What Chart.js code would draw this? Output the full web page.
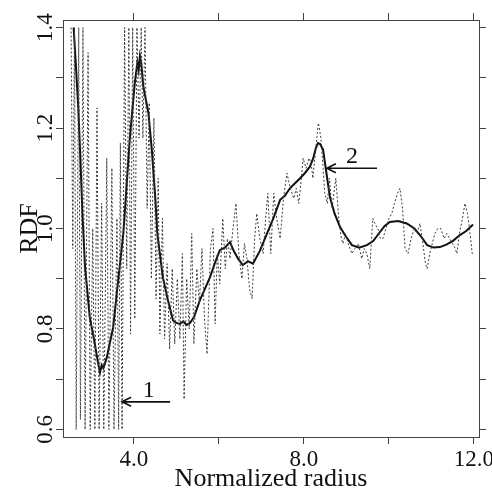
<!DOCTYPE html>
<html>
<head>
<meta charset="utf-8">
<script src="https://cdn.jsdelivr.net/npm/chart.js@4"></script>
<style>
  html, body { margin: 0; padding: 0; background: #fff; }
  #wrap { width: 492px; height: 491px; position: relative; }
</style>
</head>
<body>
<div id="wrap"><canvas id="rdfChart"></canvas></div>
<script>
// ── Smoothed RDF (solid line) ──
const smoothR = [
  2.58, 2.63, 2.69, 2.74, 2.79, 2.85, 2.96, 3.08, 3.15, 3.20,
  3.24, 3.28, 3.36, 3.51, 3.62, 3.75, 3.90, 4.02, 4.08, 4.11,
  4.14, 4.17, 4.22, 4.34, 4.42, 4.50, 4.55, 4.68, 4.80, 4.92,
  5.00, 5.08, 5.16, 5.24, 5.32, 5.42, 5.55, 5.67, 5.79, 5.90,
  6.02, 6.14, 6.26, 6.35, 6.45, 6.56, 6.68, 6.80, 6.96, 7.13,
  7.28, 7.44, 7.55, 7.67, 7.79, 7.91, 8.02, 8.14, 8.22, 8.28,
  8.33, 8.38, 8.45, 8.53, 8.61, 8.72, 8.85, 8.98, 9.13, 9.30,
  9.48, 9.63, 9.79, 9.90, 10.02, 10.22, 10.42, 10.60, 10.75, 10.90,
  11.05, 11.20, 11.35, 11.50, 11.67, 11.82, 11.98
];
const smoothRdf = [
  1.40, 1.33, 1.24, 1.137, 1.023, 0.923, 0.823, 0.77, 0.735, 0.713,
  0.728, 0.722, 0.743, 0.803, 0.89, 0.99, 1.177, 1.29, 1.33, 1.315,
  1.343, 1.33, 1.283, 1.23, 1.157, 1.063, 0.99, 0.903, 0.857, 0.817,
  0.812, 0.81, 0.815, 0.808, 0.812, 0.825, 0.857, 0.88, 0.903, 0.93,
  0.957, 0.962, 0.973, 0.955, 0.94, 0.927, 0.935, 0.93, 0.955, 0.99,
  1.02, 1.057, 1.065, 1.08, 1.09, 1.10, 1.11, 1.123, 1.14, 1.16,
  1.17, 1.168, 1.157, 1.11, 1.063, 1.03, 1.003, 0.985, 0.967, 0.962,
  0.967, 0.975, 0.993, 1.005, 1.013, 1.015, 1.01, 1.0, 0.985, 0.967,
  0.962, 0.963, 0.968, 0.975, 0.987, 0.995, 1.008
];

// ── Raw RDF (dotted line) ──
const rawR = [
  2.52, 2.56, 2.60, 2.64, 2.70, 2.74, 2.80, 2.85, 2.92, 2.97,
  3.03, 3.08, 3.13, 3.18, 3.24, 3.29, 3.36, 3.41, 3.48, 3.53,
  3.60, 3.64, 3.68, 3.72, 3.78, 3.83, 3.88, 3.92, 3.97, 4.02,
  4.07, 4.12, 4.17, 4.21, 4.26, 4.31, 4.36, 4.41, 4.47, 4.52,
  4.57, 4.61, 4.67, 4.72, 4.78, 4.84, 4.90, 4.96, 5.02, 5.08,
  5.14, 5.18, 5.24, 5.30, 5.36, 5.41, 5.48, 5.54, 5.60, 5.66,
  5.72, 5.80, 5.86, 5.91, 5.96, 6.02, 6.09, 6.15, 6.20, 6.26,
  6.33, 6.40, 6.47, 6.54, 6.60, 6.66, 6.72, 6.78, 6.84, 6.89,
  6.96, 7.04, 7.10, 7.15, 7.22, 7.29, 7.36, 7.44, 7.52, 7.60,
  7.68, 7.76, 7.82, 7.88, 7.94, 7.98, 8.05, 8.12, 8.17, 8.21,
  8.28, 8.34, 8.40, 8.45, 8.49, 8.55, 8.60, 8.66, 8.72, 8.75,
  8.82, 8.88, 8.92, 8.98, 9.04, 9.13, 9.20, 9.28, 9.36, 9.42,
  9.48, 9.55, 9.62, 9.67, 9.74, 9.80, 9.86, 9.93, 10.00, 10.07,
  10.13, 10.20, 10.26, 10.32, 10.38, 10.45, 10.52, 10.60, 10.66, 10.73,
  10.80, 10.86, 10.90, 10.96, 11.02, 11.08, 11.15, 11.22, 11.30, 11.36,
  11.43, 11.50, 11.56, 11.60, 11.66, 11.73, 11.79, 11.85, 11.91, 11.96,
  11.99
];
const rawRdf = [
  1.40, 0.96, 1.40, 0.60, 1.40, 0.62, 1.40, 0.60, 1.35, 0.60,
  1.00, 0.60, 1.24, 0.60, 1.05, 0.60, 1.14, 0.60, 1.12, 0.60,
  1.02, 0.60, 1.17, 0.60, 1.40, 0.92, 1.40, 0.79, 1.40, 0.82,
  1.40, 1.18, 1.40, 1.18, 1.40, 1.04, 1.25, 0.90, 1.22, 0.86,
  1.10, 0.79, 1.02, 0.78, 0.93, 0.76, 0.92, 0.77, 0.90, 0.78,
  0.95, 0.66, 0.90, 0.80, 0.99, 0.77, 0.92, 0.85, 0.96, 0.82,
  0.75, 0.96, 1.00, 0.81, 0.95, 0.89, 1.02, 0.92, 0.98, 0.94,
  1.00, 1.05, 0.95, 0.90, 0.97, 0.94, 0.88, 0.86, 0.98, 1.03,
  0.98, 0.95, 1.02, 1.07, 0.95, 1.07, 1.02, 0.98, 1.06, 1.11,
  1.08, 1.06, 1.08, 1.05, 1.10, 1.14, 1.12, 1.14, 1.13, 1.10,
  1.16, 1.21, 1.18, 1.12, 1.07, 1.05, 1.10, 1.04, 1.08, 1.10,
  1.02, 0.98, 0.97, 0.99, 0.97, 0.95, 0.96, 0.97, 0.94, 0.96,
  0.95, 0.92, 1.02, 1.01, 1.00, 0.98, 0.98, 1.00, 1.02, 1.03,
  1.05, 1.07, 1.08, 1.04, 0.96, 0.95, 0.98, 1.00, 0.99, 1.01,
  0.97, 0.93, 0.92, 0.95, 0.97, 0.99, 1.00, 1.00, 0.98, 0.99,
  0.98, 0.97, 0.96, 0.95, 0.99, 1.02, 1.05, 1.03, 0.99, 0.95,
  0.95
];

// ── Axis ticks ──
const xTicks = [4, 6, 8, 10, 12];
const xTickLabels = ['4.0', '', '8.0', '', '12.0'];
const yTicks = [0.6, 0.7, 0.8, 0.9, 1.0, 1.1, 1.2, 1.3, 1.4];
const yTickLabels = ['0.6', '', '0.8', '', '1.0', '', '1.2', '', '1.4'];

// ── Arrow markers (tip -> tail at one RDF level) ──
const arrowLabels = ['1', '2'];
const arrowTipR = [3.72, 8.54];
const arrowTailR = [4.85, 9.72];
const arrowRdf = [0.655, 1.12];
const arrowTextR = [4.35, 9.13];
const arrowTextRdf = [0.677, 1.143];

const SERIF = '"Liberation Serif", "DejaVu Serif", serif';
const INK = '#111';
const FRAME = '#444';

const toPoints = (xs, ys) => xs.map((x, i) => ({ x, y: ys[i] }));

// ── Arrow plugin ──
const arrowPlugin = {
  id: 'arrows',
  afterDatasetsDraw(chart) {
    const { ctx, scales: { x, y } } = chart;
    ctx.save();
    ctx.strokeStyle = INK;
    ctx.fillStyle = INK;
    ctx.lineWidth = 1.6;
    ctx.font = '24px ' + SERIF;
    ctx.textAlign = 'center';
    ctx.textBaseline = 'middle';
    arrowLabels.forEach((lbl, i) => {
      const tip = x.getPixelForValue(arrowTipR[i]);
      const tail = x.getPixelForValue(arrowTailR[i]);
      const yy = y.getPixelForValue(arrowRdf[i]);
      ctx.beginPath();
      ctx.moveTo(tail, yy);
      ctx.lineTo(tip, yy);
      ctx.moveTo(tip + 9, yy - 4.5);
      ctx.lineTo(tip, yy);
      ctx.lineTo(tip + 9, yy + 4.5);
      ctx.stroke();
      ctx.fillText(lbl, x.getPixelForValue(arrowTextR[i]), y.getPixelForValue(arrowTextRdf[i]));
    });
    ctx.restore();
  }
};

const gridOpts = { drawOnChartArea: false, drawTicks: true, tickLength: 7, color: FRAME, lineWidth: 1 };
const borderOpts = { display: true, color: FRAME, width: 1 };
const setX = (s) => { s.ticks = xTicks.map(v => ({ value: v })); };
const setY = (s) => { s.ticks = yTicks.map(v => ({ value: v })); };

function initRdfChart() {
  const ctx = document.getElementById('rdfChart');
  new Chart(ctx, {
    type: 'scatter',
    data: {
      datasets: [
        {
          label: 'raw',
          data: toPoints(rawR, rawRdf),
          showLine: true,
          borderColor: '#3a3a3a',
          borderWidth: 1,
          borderDash: [2, 2],
          pointRadius: 0,
          tension: 0
        },
        {
          label: 'smoothed',
          data: toPoints(smoothR, smoothRdf),
          showLine: true,
          borderColor: INK,
          borderWidth: 2,
          pointRadius: 0,
          tension: 0
        }
      ]
    },
    options: {
      animation: false,
      responsive: true,
      maintainAspectRatio: false,
      layout: { padding: { top: 13, right: 6, left: 0, bottom: 0 } },
      plugins: { legend: { display: false }, tooltip: { enabled: false } },
      scales: {
        x: {
          type: 'linear', position: 'bottom', min: 2.33, max: 12.12,
          afterBuildTicks: setX,
          // let the "12.0" label hang to the canvas edge like the original
          afterFit: (s) => { s.paddingRight = 13; },
          grid: gridOpts, border: borderOpts,
          ticks: {
            autoSkip: false, maxRotation: 0, padding: 4, color: INK,
            font: { family: SERIF, size: 23, lineHeight: 1 },
            callback: (v, i) => xTickLabels[i]
          },
          title: {
            display: true, text: 'Normalized radius', color: INK,
            font: { family: SERIF, size: 26, lineHeight: 1 },
            padding: { top: -9, bottom: -1 }
          }
        },
        x2: {
          type: 'linear', position: 'top', min: 2.33, max: 12.12,
          afterBuildTicks: setX,
          grid: gridOpts, border: borderOpts,
          ticks: { display: false }
        },
        y: {
          type: 'linear', position: 'left', min: 0.585, max: 1.415,
          afterBuildTicks: setY,
          grid: gridOpts, border: borderOpts,
          ticks: {
            autoSkip: false, minRotation: 90, maxRotation: 90, crossAlign: 'center',
            padding: -4, color: INK,
            font: { family: SERIF, size: 23, lineHeight: 1 },
            callback: (v, i) => yTickLabels[i]
          },
          title: {
            display: true, text: 'RDF', color: INK,
            font: { family: SERIF, size: 26, lineHeight: 1 },
            padding: { top: 17.5, bottom: -2.5 }
          }
        },
        y2: {
          type: 'linear', position: 'right', min: 0.585, max: 1.415,
          afterBuildTicks: setY,
          grid: gridOpts, border: borderOpts,
          ticks: { display: false }
        }
      }
    },
    plugins: [arrowPlugin]
  });
}

document.addEventListener('DOMContentLoaded', initRdfChart);
</script>
</body>
</html>
